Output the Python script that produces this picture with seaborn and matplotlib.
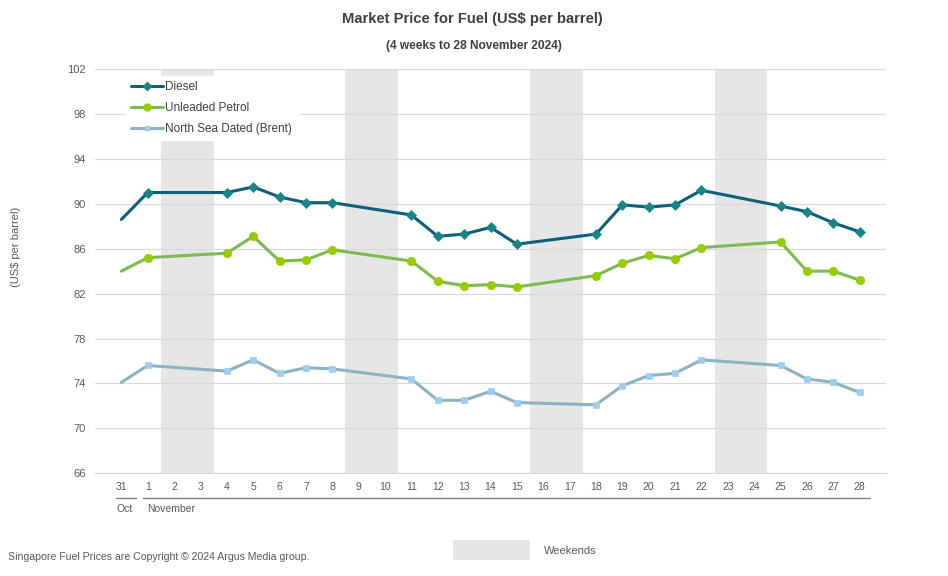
import matplotlib
matplotlib.use("Agg")
import matplotlib.pyplot as plt
import seaborn as sns
import pandas as pd
from matplotlib.lines import Line2D
from matplotlib.patches import Rectangle

sns.set_style("white")
plt.rcParams['font.family'] = ['Liberation Sans', 'DejaVu Sans']

# category axis: 31 Oct then 1..28 Nov
day_labels = ['31'] + [str(d) for d in range(1, 29)]
weekend_days = ['2', '3', '9', '10', '16', '17', '23', '24']
trade_days = ['31', '1', '4', '5', '6', '7', '8', '11', '12', '13', '14', '15',
              '18', '19', '20', '21', '22', '25', '26', '27', '28']

diesel = [88.6, 91.0, 91.0, 91.5, 90.6, 90.1, 90.1, 89.0, 87.1, 87.3, 87.9, 86.4,
          87.3, 89.9, 89.7, 89.9, 91.2, 89.8, 89.3, 88.3, 87.5]
unleaded = [84.0, 85.2, 85.6, 87.1, 84.9, 85.0, 85.9, 84.9, 83.1, 82.7, 82.8, 82.6,
            83.6, 84.7, 85.4, 85.1, 86.1, 86.6, 84.0, 84.0, 83.2]
brent = [74.1, 75.6, 75.1, 76.1, 74.9, 75.4, 75.3, 74.4, 72.5, 72.5, 73.3, 72.3,
         72.1, 73.8, 74.7, 74.9, 76.1, 75.6, 74.4, 74.1, 73.2]

y_ticks = [66, 70, 74, 78, 82, 86, 90, 94, 98, 102]

df = pd.DataFrame({'day': trade_days, 'diesel': diesel,
                   'unleaded': unleaded, 'brent': brent})
df['pos'] = [day_labels.index(d) for d in df['day']]
wk = pd.DataFrame({'pos': [day_labels.index(d) for d in weekend_days]})

fig = plt.figure(figsize=(9.48, 5.76), dpi=100)
ax = fig.add_axes([95 / 948, 1 - 473.3 / 576, 791 / 948, 404.3 / 576])

# weekend shading
ax.bar(wk['pos'], y_ticks[-1] - y_ticks[0], bottom=y_ticks[0], width=1.0,
       color='#e6e6e6', zorder=0, linewidth=0)

series = [
    ('diesel', 'Diesel', '#0d5f7c', 'D', 5.5, '#178486'),
    ('unleaded', 'Unleaded Petrol', '#7dba50', 'o', 6.0, '#99cc00'),
    ('brent', 'North Sea Dated (Brent)', '#8db3c3', 's', 4.5, '#9fcdf2'),
]
n = len(df)
handles = []
for col, name, lc, mk, ms, mc in series:
    sns.lineplot(data=df, x='pos', y=col, ax=ax, color=lc, lw=2.2,
                 marker=mk, markersize=ms, markerfacecolor=mc, markeredgecolor=mc,
                 markeredgewidth=0.5, markevery=list(range(1, n)), zorder=3)
    handles.append(Line2D([0], [0], color=lc, lw=2.2, marker=mk, markersize=ms - 1,
                          markerfacecolor=mc, markeredgecolor=mc, label=name))

ax.set_xlim(-1, 29)
ax.set_ylim(y_ticks[0], y_ticks[-1])
ax.set_yticks(y_ticks)
ax.set_xticks(range(len(day_labels)))
ax.set_xticklabels(day_labels)
ax.set_xlabel('')
ax.set_ylabel('')
ax.yaxis.grid(True, color='#d9d9d9', lw=0.8)
ax.set_axisbelow(True)
for s in ['left', 'top', 'right']:
    ax.spines[s].set_visible(False)
ax.spines['bottom'].set_color('#d9d9d9')
ax.spines['bottom'].set_linewidth(0.8)
ax.tick_params(axis='y', length=0, labelsize=8, labelcolor='#595959', pad=6.5)
ax.tick_params(axis='x', length=0, labelsize=7.5, labelcolor='#595959', pad=6)

leg = ax.legend(handles=handles, loc='upper left', bbox_to_anchor=(0.039, 0.983),
                borderaxespad=0, frameon=True, fancybox=False, framealpha=1,
                facecolor='white', edgecolor='white', fontsize=8.5,
                handlelength=2.7, handletextpad=0.2, labelspacing=0.75, borderpad=0.45)
for t in leg.get_texts():
    t.set_color('#404040')

# month grouping under the axis
trans = ax.get_xaxis_transform()
ax.plot([-0.2, 0.55], [-0.06, -0.06], transform=trans, color='#808080', lw=1, clip_on=False)
ax.plot([0.83, 28.4], [-0.06, -0.06], transform=trans, color='#808080', lw=1, clip_on=False)
ax.text(-0.18, -0.088, 'Oct', transform=trans, ha='left', va='center', fontsize=7.5, color='#595959')
ax.text(0.96, -0.088, 'November', transform=trans, ha='left', va='center', fontsize=7.5, color='#595959')

fig.text(0.498, 1 - 19 / 576, 'Market Price for Fuel (US$ per barrel)', ha='center', va='center',
         fontsize=10.6, fontweight='bold', color='#404040')
fig.text(0.4995, 1 - 46 / 576, '(4 weeks to 28 November 2024)', ha='center', va='center',
         fontsize=8.6, fontweight='bold', color='#404040')
fig.text(16 / 948, 1 - 247 / 576, '(US$ per barrel)', rotation=90, ha='center', va='center',
         fontsize=8, color='#595959')
fig.text(8 / 948, 1 - 557 / 576, 'Singapore Fuel Prices are Copyright © 2024 Argus Media group.',
         ha='left', va='center', fontsize=7.6, color='#595959')
fig.patches.append(Rectangle((453 / 948, 1 - 560 / 576), 77 / 948, 20 / 576,
                             transform=fig.transFigure, facecolor='#e6e6e6', edgecolor='none'))
fig.text(544 / 948, 1 - 551 / 576, 'Weekends', ha='left', va='center', fontsize=8, color='#595959')

fig.savefig('out.png', dpi=100)
